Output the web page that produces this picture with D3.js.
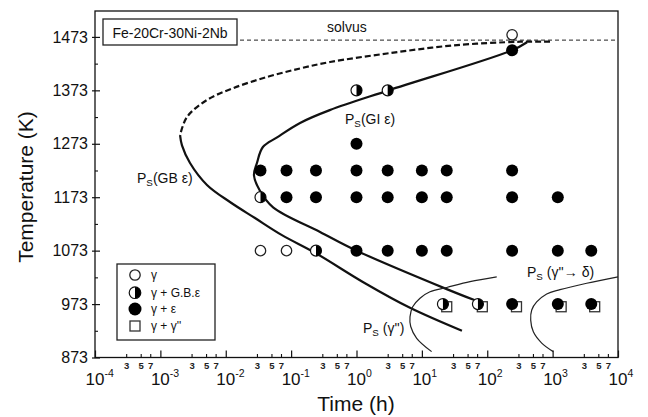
<!DOCTYPE html>
<html>
<head>
<meta charset="utf-8">
<title>TTP diagram Fe-20Cr-30Ni-2Nb</title>
<script src="https://d3js.org/d3.v7.min.js"></script>
<style>
  body { margin: 0; background: #fff; }
  svg { font-family: 'Liberation Sans', Arial, sans-serif; }
  .tick-lbl { font-size: 16px; fill: #111; }
  .minor-lbl { font-size: 9.5px; font-weight: bold; fill: #222; }
  .title { font-size: 21px; fill: #111; }
  .note { font-size: 14px; fill: #111; }
  .legend-text { font-size: 12px; fill: #111; }
</style>
</head>
<body>
<script>
// axis ticks
const tempTicks = [873, 973, 1073, 1173, 1273, 1373, 1473];
const tempMinor = [923, 1023, 1123, 1223, 1323, 1423];
const timeExp = [-4, -3, -2, -1, 0, 1, 2, 3, 4];
const minorDigits = [3, 5, 7];

// observed structures, [time (h), temperature (K)]
const gammaPts = [[0.034, 1073], [0.085, 1073], [240, 1477]];
const gbEpsPts = [[0.034, 1173], [0.24, 1073], [1, 1373], [3, 1373], [21, 973], [72, 973]];
const epsPts = [
  [240, 1448], [1, 1273],
  [0.034, 1223], [0.085, 1223], [0.24, 1223], [1, 1223], [3, 1223], [10, 1223], [24, 1223], [240, 1223],
  [0.085, 1173], [0.24, 1173], [1, 1173], [3, 1173], [10, 1173], [24, 1173], [240, 1173], [1200, 1173],
  [1, 1073], [3, 1073], [10, 1073], [24, 1073], [240, 1073], [1200, 1073], [3900, 1073],
  [240, 973], [1200, 973], [3900, 973]
];
const gppPts = [[24, 968], [84, 968], [280, 968], [1350, 968], [4400, 968]];

// precipitation start curves
const gbDashed = [[912, 1464], [317, 1464], [29.9, 1457], [2.93, 1442], [0.394, 1426], [0.137, 1414],
  [0.0428, 1398], [0.0129, 1377], [0.00516, 1355], [0.00255, 1323], [0.0020, 1289]];
const gbSolid = [[0.0020, 1289], [0.00214, 1270], [0.00284, 1237], [0.00516, 1196], [0.0116, 1164],
  [0.028, 1134], [0.0724, 1102], [0.24, 1068], [1.35, 1012], [6.58, 966], [41, 923]];
const giCurve = [[406, 1463], [240, 1448], [3.1, 1373], [0.39, 1336], [0.137, 1312], [0.061, 1285],
  [0.037, 1267], [0.030, 1237], [0.027, 1214], [0.033, 1186], [0.053, 1154], [0.277, 1108],
  [1, 1073], [24, 1001], [65, 980]];
const gppCurve = [[139.6, 1024], [54.5, 1015], [24, 1004], [13.3, 996], [9.36, 984], [7.24, 968],
  [6.58, 949], [6.75, 931], [8.33, 909], [14.1, 884]];
const deltaCurve = [[10000, 1024], [3320, 1012], [1297, 1000], [811, 992], [570, 977], [479, 962],
  [462, 943], [507, 921], [681, 900], [1023, 884]];
const solvusT = 1467;

const W = 648, H = 417;
const svg = d3.select("body").append("svg").attr("width", W).attr("height", H);

const x = d3.scaleLog().domain([1e-4, 1e4]).range([95, 618]);
const y = d3.scaleLinear().domain([873, 1521.5]).range([357.5, 11]);

// frame
svg.append("rect")
   .attr("x", x(1e-4)).attr("y", y(1521.5))
   .attr("width", x(1e4) - x(1e-4)).attr("height", y(873) - y(1521.5))
   .attr("fill", "none").attr("stroke", "#111").attr("stroke-width", 1.3);

// y axis
const gy = svg.append("g").attr("transform", `translate(${x(1e-4)},0)`)
   .call(d3.axisLeft(y).tickValues(tempTicks).tickFormat(d3.format("d"))
     .tickSizeInner(-5).tickSizeOuter(0).tickPadding(7));
gy.select(".domain").remove();
gy.selectAll(".tick line").attr("x1", -3).attr("stroke", "#111").attr("stroke-width", 1.2);
gy.selectAll("text").attr("class", "tick-lbl");

const gyMinor = svg.append("g").attr("transform", `translate(${x(1e-4)},0)`)
   .call(d3.axisLeft(y).tickValues(tempMinor).tickSizeInner(-3).tickSizeOuter(0).tickFormat(""));
gyMinor.select(".domain").remove();
gyMinor.selectAll(".tick line").attr("stroke", "#111").attr("stroke-width", 1.1);

// x axis
const gx = svg.append("g").attr("transform", `translate(0,${y(873)})`)
   .call(d3.axisBottom(x).tickValues(timeExp.map(e => 10 ** e)).tickSizeInner(-7).tickSizeOuter(0).tickFormat(""));
gx.select(".domain").remove();
gx.selectAll(".tick line").attr("stroke", "#111").attr("stroke-width", 1.2);

const minorVals = timeExp.slice(0, -1).flatMap(e => minorDigits.map(m => m * 10 ** e));
const gxMinor = svg.append("g").attr("transform", `translate(0,${y(873)})`)
   .call(d3.axisBottom(x).tickValues(minorVals).tickSizeInner(-3.5).tickSizeOuter(0).tickPadding(4.5)
     .tickFormat(d => Math.round(d / 10 ** Math.floor(Math.log10(d) + 1e-9))));
gxMinor.select(".domain").remove();
gxMinor.selectAll(".tick line").attr("stroke", "#111").attr("stroke-width", 1.1);
gxMinor.selectAll("text").attr("class", "minor-lbl");

const xl = svg.append("g").selectAll("text").data(timeExp).join("text")
   .attr("x", e => x(10 ** e) - 9.5).attr("y", 385).attr("fill", "#111");
xl.append("tspan").attr("font-size", 17).text("10");
xl.append("tspan").attr("font-size", 10.5).attr("dy", -8).text(e => e < 0 ? "-" + (-e) : e);

// axis titles
svg.append("text").attr("class", "title").attr("text-anchor", "middle")
   .attr("transform", "translate(33,187) rotate(-90)").text("Temperature (K)");
svg.append("text").attr("class", "title").attr("text-anchor", "middle")
   .attr("x", 356).attr("y", 411).text("Time (h)");

// alloy box
svg.append("rect").attr("x", 103).attr("y", 19).attr("width", 134).attr("height", 26)
   .attr("fill", "#fff").attr("stroke", "#222").attr("stroke-width", 1.3);
svg.append("text").attr("class", "note").attr("x", 170).attr("y", 37.5)
   .attr("text-anchor", "middle").text("Fe-20Cr-30Ni-2Nb");

// solvus
svg.append("line").attr("x1", 240).attr("x2", x(1e4)).attr("y1", y(solvusT)).attr("y2", y(solvusT))
   .attr("stroke", "#222").attr("stroke-width", 1).attr("stroke-dasharray", "4,3");
svg.append("text").attr("class", "note").attr("font-size", 13.5).attr("x", 327).attr("y", 32).text("solvus");

// curves
const line = d3.line().x(d => x(d[0])).y(d => y(d[1])).curve(d3.curveCatmullRom.alpha(0.5));
svg.append("path").attr("d", line(gbDashed)).attr("fill", "none").attr("stroke", "#111")
   .attr("stroke-width", 2.2).attr("stroke-dasharray", "6,3");
[gbSolid, giCurve].forEach(c => svg.append("path").attr("d", line(c)).attr("fill", "none")
   .attr("stroke", "#111").attr("stroke-width", 2.2));
[gppCurve, deltaCurve].forEach(c => svg.append("path").attr("d", line(c)).attr("fill", "none")
   .attr("stroke", "#222").attr("stroke-width", 1.2));

// curve labels
function psLabel(px, py, rest, size) {
  const t = svg.append("text").attr("x", px).attr("y", py).attr("fill", "#111").attr("font-size", size);
  t.append("tspan").text("P");
  t.append("tspan").attr("font-size", size * 0.7).attr("dy", 3).text("S");
  t.append("tspan").attr("dy", -3).text(rest);
}
psLabel(137, 182.5, "(GB \u03b5)", 14);
psLabel(345, 124, "(GI \u03b5)", 14);
psLabel(363, 333, " (\u03b3'')", 14);
psLabel(527, 277, " (\u03b3''\u2192 \u03b4)", 14);

// markers
function halfPath(cx, cy, r) {
  return `M${cx},${cy - r}A${r},${r} 0 0 1 ${cx},${cy + r}Z`;
}
const gm = svg.append("g");
gm.selectAll("rect.sq").data(gppPts).join("rect").attr("class", "sq")
  .attr("x", d => x(d[0]) - 5).attr("y", d => y(d[1]) - 5).attr("width", 10).attr("height", 10)
  .attr("fill", "#fff").attr("stroke", "#333").attr("stroke-width", 1.3);
gm.selectAll("circle.op").data(gammaPts).join("circle").attr("class", "op")
  .attr("cx", d => x(d[0])).attr("cy", d => y(d[1])).attr("r", 5.2)
  .attr("fill", "#fff").attr("stroke", "#222").attr("stroke-width", 1.3);
gm.selectAll("circle.fl").data(epsPts).join("circle").attr("class", "fl")
  .attr("cx", d => x(d[0])).attr("cy", d => y(d[1])).attr("r", 6).attr("fill", "#000");
const hg = gm.selectAll("g.hf").data(gbEpsPts).join("g").attr("class", "hf");
hg.append("circle").attr("cx", d => x(d[0])).attr("cy", d => y(d[1])).attr("r", 5.5)
  .attr("fill", "#fff").attr("stroke", "#111").attr("stroke-width", 1.2);
hg.append("path").attr("d", d => halfPath(x(d[0]), y(d[1]), 5.5)).attr("fill", "#000");
// keep the open circles above the filled ones
gm.selectAll("circle.op").raise();

// legend
const lg = svg.append("g");
lg.append("rect").attr("x", 117).attr("y", 264).attr("width", 98).attr("height", 76)
  .attr("fill", "#fff").attr("stroke", "#222").attr("stroke-width", 1.3);
const legendRows = [275, 292.7, 309, 326];
const legendText = ["\u03b3", "\u03b3 + G.B.\u03b5", "\u03b3 + \u03b5", "\u03b3 + \u03b3''"];
lg.append("circle").attr("cx", 135).attr("cy", legendRows[0]).attr("r", 5.2)
  .attr("fill", "#fff").attr("stroke", "#222").attr("stroke-width", 1.3);
lg.append("circle").attr("cx", 135).attr("cy", legendRows[1]).attr("r", 5.8)
  .attr("fill", "#fff").attr("stroke", "#111").attr("stroke-width", 1.2);
lg.append("path").attr("d", halfPath(135, legendRows[1], 5.8)).attr("fill", "#000");
lg.append("circle").attr("cx", 135).attr("cy", legendRows[2]).attr("r", 6.5).attr("fill", "#000");
lg.append("rect").attr("x", 130).attr("y", legendRows[3] - 5).attr("width", 10).attr("height", 10)
  .attr("fill", "#fff").attr("stroke", "#333").attr("stroke-width", 1.3);
lg.selectAll("text").data(legendText).join("text").attr("class", "legend-text")
  .attr("x", 151).attr("y", (d, i) => legendRows[i] + 4).text(d => d);
</script>
</body>
</html>
